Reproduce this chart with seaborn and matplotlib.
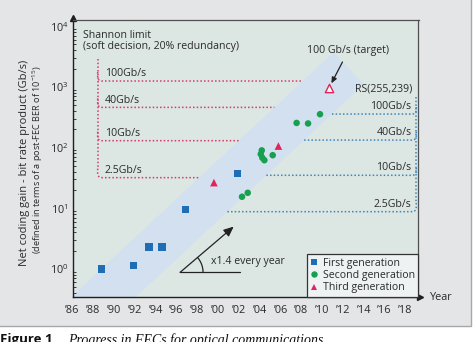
import numpy as np
import pandas as pd
import matplotlib
matplotlib.use("Agg")
import matplotlib.pyplot as plt
from matplotlib.patches import Polygon, Rectangle
from matplotlib.lines import Line2D
from matplotlib.ticker import FixedLocator, LogLocator, NullFormatter
import seaborn as sns

# FEC results: year reported and net coding gain x bit rate product (Gb/s)
first_years = [1988.8, 1991.85, 1993.35, 1994.6, 1996.85, 2001.85]
first_vals = [1.0, 1.15, 2.3, 2.3, 9.6, 37.5]
second_years = [2002.3, 2002.85, 2004.2, 2004.1, 2004.25, 2004.45, 2005.25,
                2007.55, 2008.65, 2009.8]
second_vals = [15.5, 18.0, 90, 78, 68, 62, 75, 255, 250, 355]
third_years = [1999.6, 2005.8]
third_vals = [26.5, 106]
target_year = 2010.65
target_val = 950

# Reference levels per bit rate
rate_labels = ["100Gb/s", "40Gb/s", "10Gb/s", "2.5Gb/s"]
shannon_levels = [1250, 460, 130, 32]     # Shannon limit, soft decision, 20% redundancy
rs_levels = [357, 133, 35, 8.8]           # RS(255,239)

year_ticks = list(range(1986, 2019, 2))
year_tick_labels = ["\u2019%02d" % (y % 100) for y in year_ticks]
decade_ticks = [1, 10, 100, 1000, 10000]
decade_labels = [r"10$^{%d}$" % k for k in range(5)]

growth = 1.4            # "x1.4 every year" guide
band_growth = 1.445     # slope of the shaded trend band

sns.set_theme(style="white")
plt.rcParams["font.family"] = ["Open Sans", "DejaVu Sans"]
plt.rcParams["mathtext.fontset"] = "custom"
plt.rcParams["mathtext.rm"] = "Open Sans"
plt.rcParams["mathtext.it"] = "Open Sans:italic"
plt.rcParams["mathtext.bf"] = "Open Sans:bold"

W, H = 474, 342
fig = plt.figure(figsize=(W / 100, H / 100), dpi=100)
fig.patch.set_facecolor("white")
fig.add_artist(Rectangle((-0.01, (H - 326) / H), 471 / W + 0.01, 326 / H + 0.01,
                         transform=fig.transFigure, facecolor="#e4e5e6",
                         edgecolor="#a6a8aa", lw=1.0, zorder=-10))

ax = fig.add_axes([72.5 / W, (H - 297) / H, 346 / W, 277 / H])
ax.set_facecolor("#dce7e4")
ax.set_yscale("log")
ax.set_xlim(1986, 2019.27)
ax.set_ylim(0.346, 12650)

TXT = "#2a2a2a"
RED = "#d63a6a"
BLUE = "#3d86b8"


def to_px(pts):
    return ax.transData.transform(np.asarray(pts, dtype=float))


def to_data(pts):
    return ax.transData.inverted().transform(np.asarray(pts, dtype=float))


# ---- shaded trend band ----
k = np.log10(band_growth)
t_up, v_up = 2008.13, shannon_levels[0]
t_lo, v_lo = 2010.95, rs_levels[0]


def upper_edge(t):
    return v_up * 10 ** (k * (t - t_up))


def lower_edge(t):
    return v_lo * 10 ** (k * (t - t_lo))


p_a, p_b = to_px([(1990, upper_edge(1990)), (2005, upper_edge(2005))])
d = (p_b - p_a) / np.linalg.norm(p_b - p_a)
nrm = np.array([-d[1], d[0]])
q = to_px([(2000, lower_edge(2000))])[0]
w = np.dot(p_a - q, nrm)
lc = to_px([(2014.0, lower_edge(2014.0))])[0]
uc = lc + w * nrm
u0 = to_px([(1975, upper_edge(1975))])[0]
l0 = to_px([(1980, lower_edge(1980))])[0]
band = Polygon(to_data([u0, uc, lc, l0]), closed=True, facecolor="#d3e0ef",
               edgecolor="none", zorder=0)
ax.add_patch(band)


def curve_path(start, corner, end, r=4.5, n=12):
    """Polyline start->corner->end in pixel space with a rounded corner."""
    start, corner, end = map(np.asarray, (start, corner, end))
    v1 = (start - corner) / np.linalg.norm(start - corner)
    v2 = (end - corner) / np.linalg.norm(end - corner)
    a = corner + v1 * r
    b = corner + v2 * r
    s = np.linspace(0, 1, n)[:, None]
    arc = (1 - s) ** 2 * a + 2 * (1 - s) * s * corner + s ** 2 * b
    return np.vstack([start, arc, end])


dot_kw = dict(lw=1.1, linestyle=(0, (1, 1.4)), solid_capstyle="butt", zorder=2)

# ---- Shannon limit connectors (left) ----
x_red = 1988.42
top_red = to_px([(x_red, 2880)])[0]
for lab, lev in zip(rate_labels, shannon_levels):
    t_end = t_up + np.log10(lev / v_up) / k
    corner = to_px([(x_red, lev)])[0]
    endp = to_px([(t_end, lev)])[0]
    start = corner + np.array([0, 9.0])
    pts = to_data(curve_path(start, corner, endp))
    ax.plot(pts[:, 0], pts[:, 1], color=RED, **dot_kw)
    ax.annotate(lab, xy=(1989.1, lev), xytext=(0, 5.2), textcoords="offset points",
                ha="left", va="center", fontsize=7.6, color=TXT)
low_corner = to_px([(x_red, shannon_levels[-1])])[0]
vert = to_data([top_red, low_corner + np.array([0, 9.0])])
ax.plot(vert[:, 0], vert[:, 1], color=RED, **dot_kw)

# ---- RS(255,239) connectors (right) ----
x_blue = 2019.05
top_blue = to_px([(x_blue, 680)])[0]
for lab, lev in zip(rate_labels, rs_levels):
    t_start = t_lo + np.log10(lev / v_lo) / k
    startp = to_px([(t_start, lev)])[0]
    corner = to_px([(x_blue, lev)])[0]
    endp = corner + np.array([0, 9.0])
    pts = to_data(curve_path(startp, corner, endp))
    ax.plot(pts[:, 0], pts[:, 1], color=BLUE, **dot_kw)
    ax.annotate(lab, xy=(2018.6, lev), xytext=(0, 5.4), textcoords="offset points",
                ha="right", va="center", fontsize=7.6, color=TXT)
low_corner = to_px([(x_blue, rs_levels[-1])])[0]
vert = to_data([top_blue, low_corner + np.array([0, 9.0])])
ax.plot(vert[:, 0], vert[:, 1], color=BLUE, **dot_kw)

ax.text(2018.65, 920, "RS(255,239)", ha="right", va="center", fontsize=7.6, color=TXT)
ax.text(1987.0, 5750, "Shannon limit\n(soft decision, 20% redundancy)", ha="left",
        va="center", fontsize=7.6, color=TXT, linespacing=1.05)

# ---- data points ----
df = pd.DataFrame({
    "year": first_years + second_years + third_years,
    "value": first_vals + second_vals + third_vals,
    "generation": (["First generation"] * len(first_years)
                   + ["Second generation"] * len(second_years)
                   + ["Third generation"] * len(third_years)),
})
palette = {"First generation": "#1f6eb4", "Second generation": "#17a050",
           "Third generation": "#e0245e"}
markers = {"First generation": "s", "Second generation": "o", "Third generation": "^"}
sizes = {"First generation": 28, "Second generation": 22, "Third generation": 30}
for gen, sub in df.groupby("generation"):
    sns.scatterplot(data=sub, x="year", y="value", color=palette[gen],
                    marker=markers[gen], s=sizes[gen], edgecolor="none",
                    linewidth=0, ax=ax, zorder=5, legend=False)
ax.scatter([target_year], [target_val], marker="^", s=36, facecolor="#f4f6f8",
           edgecolor=palette["Third generation"], linewidth=1.0, zorder=5)
ax.annotate("100 Gb/s (target)", xy=(target_year, target_val), xytext=(14, 27),
            textcoords="offset points", ha="center", va="center", fontsize=7.6,
            color=TXT,
            arrowprops=dict(arrowstyle="-|>,head_length=0.45,head_width=0.2",
                            color="#222222", lw=0.9, shrinkA=2, shrinkB=4))

# ---- x1.4 every year guide ----
t0, v0 = 1996.34, 0.88
t1 = 2001.5
ax.annotate("", xy=(t1, v0 * growth ** (t1 - t0)), xytext=(t0, v0),
            arrowprops=dict(arrowstyle="-|>,head_length=0.5,head_width=0.22",
                            color="#222222", lw=0.9, shrinkA=0, shrinkB=0), zorder=4)
ax.plot([t0, 2002.1], [v0, v0], color="#222222", lw=0.9, zorder=4)
c = to_px([(t0, v0)])[0]
p1 = to_px([(t1, v0 * growth ** (t1 - t0))])[0]
ang = np.arctan2(p1[1] - c[1], p1[0] - c[0])
th = np.linspace(0, ang, 30)
arc = to_data(np.column_stack([c[0] + 23 * np.cos(th), c[1] + 23 * np.sin(th)]))
ax.plot(arc[:, 0], arc[:, 1], color="#222222", lw=0.9, zorder=4)
ax.text(1999.3, v0 * 10 ** (10.5 / 60.7), "x1.4 every year", ha="left", va="center",
        fontsize=7.6, color=TXT)

# ---- legend ----
handles = [Line2D([], [], linestyle="none", marker=markers[g], color=palette[g],
                  markersize=4.6, markeredgewidth=0) for g in palette]
leg = ax.legend(handles, list(palette), loc="lower right", bbox_to_anchor=(1, 0),
                borderaxespad=0, frameon=True, fancybox=False, fontsize=7.6,
                handlelength=0.6, handletextpad=0.5, labelspacing=0.12,
                borderpad=0.35, framealpha=1)
leg.get_frame().set_facecolor("#eef2f2")
leg.get_frame().set_edgecolor("#333333")
leg.get_frame().set_linewidth(0.9)
for t in leg.get_texts():
    t.set_color(TXT)
leg.set_zorder(6)

# ---- axes, ticks, spines ----
ax.xaxis.set_major_locator(FixedLocator(year_ticks))
ax.set_xticklabels(year_tick_labels)
ax.yaxis.set_major_locator(FixedLocator(decade_ticks))
ax.set_yticklabels(decade_labels)
ax.yaxis.set_minor_locator(LogLocator(base=10, subs=np.arange(2, 10)))
ax.yaxis.set_minor_formatter(NullFormatter())
ax.tick_params(axis="x", direction="in", length=4, width=0.8, colors="#222222",
               labelsize=7.8, labelcolor=TXT, pad=6)
ax.tick_params(axis="y", which="major", direction="in", length=5, width=0.8,
               colors="#222222", labelsize=7.8, labelcolor=TXT, pad=3)
ax.tick_params(axis="y", which="minor", direction="in", length=2.5, width=0.6,
               colors="#222222", left=True)
for side in ("top", "right"):
    ax.spines[side].set_color("#505050")
    ax.spines[side].set_linewidth(0.9)
for side in ("left", "bottom"):
    ax.spines[side].set_color("#1e1e1e")
    ax.spines[side].set_linewidth(1.0)
ax.set_xlabel("")
ax.set_ylabel("")
ax.plot([1.005], [0], marker=">", color="#1e1e1e", markersize=4.5,
        transform=ax.transAxes, clip_on=False)
ax.plot([0], [1.006], marker="^", color="#1e1e1e", markersize=4.5,
        transform=ax.transAxes, clip_on=False)
ax.text(1.033, 0, "Year", transform=ax.transAxes, ha="left", va="center",
        fontsize=7.8, color=TXT)

fig.text(25 / W, 1 - 163 / H, "Net coding gain - bit rate product (Gb/s)",
         rotation=90, ha="center", va="center", fontsize=8.0, color=TXT)
fig.text(38 / W, 1 - 160 / H, r"(defined in terms of a post-FEC BER of 10$^{-15}$)",
         rotation=90, ha="center", va="center", fontsize=6.6, color=TXT)

# caption below the panel
fig.text(0.0, (H - 333) / H, "Figure 1", ha="left", va="top", fontsize=9.5,
         fontweight="bold", color="#111111")
fig.text(68 / W, (H - 333) / H, "Progress in FECs for optical communications",
         ha="left", va="top", fontsize=10, style="italic",
         family=["Liberation Serif", "DejaVu Serif"], color="#111111")

fig.savefig("out.png", dpi=100, facecolor=fig.get_facecolor())
